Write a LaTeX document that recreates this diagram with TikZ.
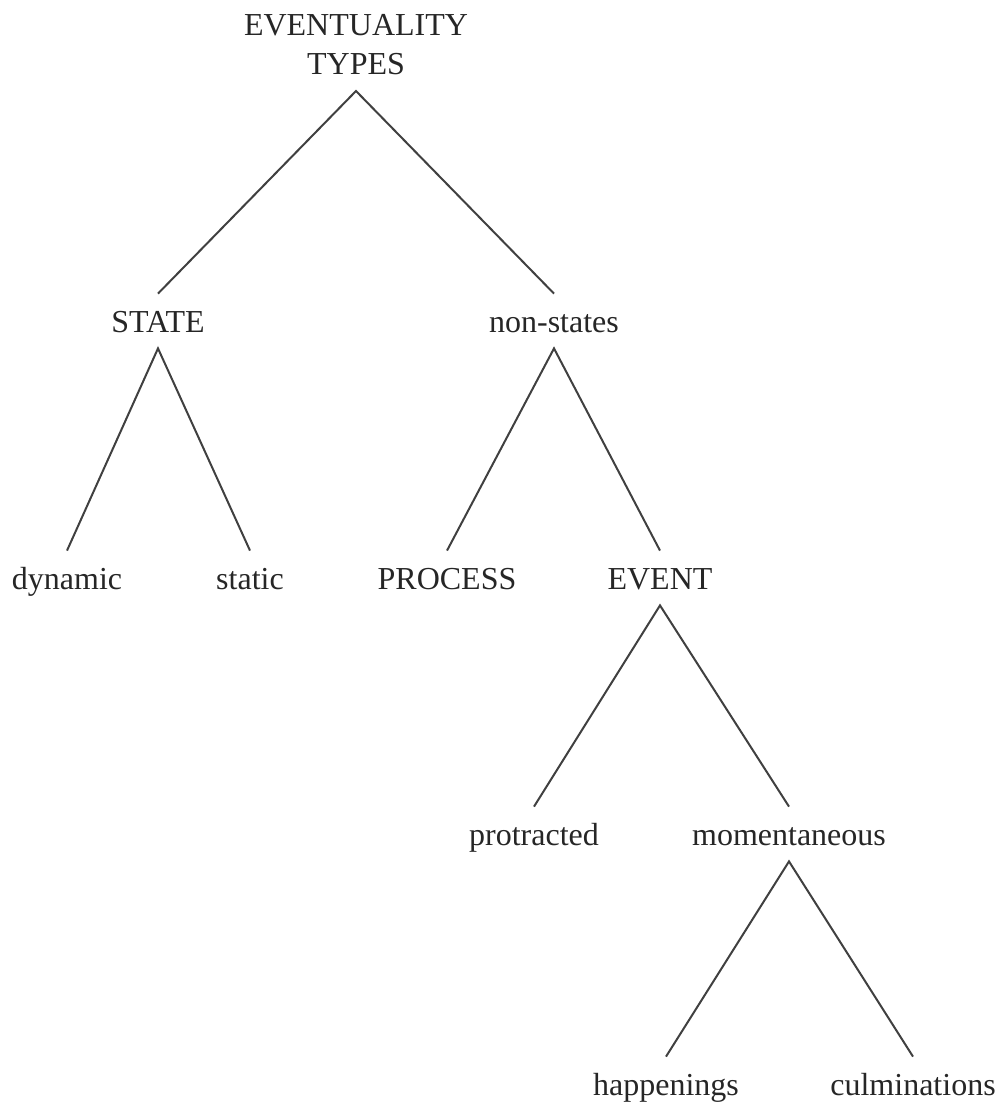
\documentclass[tikz,border=0pt]{standalone}
\usepackage{fontspec}
\setmainfont{Liberation Serif}
\usetikzlibrary{positioning}

\begin{document}
\begin{tikzpicture}[x=.5pt,y=-.5pt,
  lbl/.style={inner sep=0,anchor=base,text height=19pt,text depth=8pt,
    font=\fontsize{16}{19.5}\selectfont,text=black!85},
  branch/.style={draw=black!75,line width=1pt}]
\useasboundingbox (0,0) rectangle (1004,1113);
\node[inner xsep=0,inner ysep=8pt,text depth=0pt,anchor=south,align=center,
  font=\fontsize{16}{19.5}\selectfont,text=black!85] (types) at (356,91) {EVENTUALITY\\TYPES};
\node[lbl] (state) at (158,332) {STATE};
\node[lbl] (nonstate) at (554,332) {non-states};
\node[lbl] (dyn) at (67,589) {dynamic};
\node[lbl] (stat) at (250,589) {static};
\node[lbl] (proc) at (447,589) {PROCESS};
\node[lbl] (event) at (660,589) {EVENT};
\node[lbl] (protr) at (534,845) {protracted};
\node[lbl] (moment) at (789,845) {momentaneous};
\node[lbl] (happ) at (666,1095) {happenings};
\node[lbl] (culm) at (913,1095) {culminations};
\draw[branch] (state.north)--(types.south)--(nonstate.north);
\draw[branch] (dyn.north)--(state.south)--(stat.north);
\draw[branch] (proc.north)--(nonstate.south)--(event.north);
\draw[branch] (protr.north)--(event.south)--(moment.north);
\draw[branch] (happ.north)--(moment.south)--(culm.north);
\end{tikzpicture}
\end{document}
